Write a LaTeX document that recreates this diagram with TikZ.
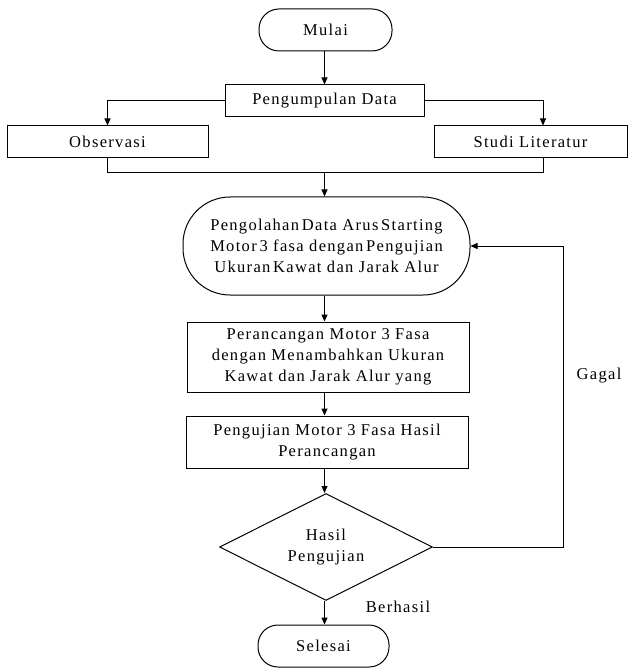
\documentclass[tikz,border=0pt]{standalone}
\usepackage{fontspec}
\setmainfont{Liberation Serif}[LetterSpace=8]
\usetikzlibrary{arrows.meta,shapes.geometric}
\begin{document}
\begin{tikzpicture}[x=1pt,y=-1pt, line width=1pt,
  font=\fontsize{16.5}{21}\selectfont,
  box/.style={draw, rectangle, inner sep=0pt, align=center},
  term/.style={draw, rectangle, inner sep=0pt, align=center},
  dec/.style={draw, diamond, aspect=2, inner sep=0pt, align=center},
  arr/.style={-{Triangle[length=7pt,width=6pt]}}]
\useasboundingbox (0,0) rectangle (630,668);

\node[term, rounded corners=20pt, minimum width=133pt, minimum height=42pt] (mulai) at (325.5,30) {Mulai};
\node[box, minimum width=199pt, minimum height=32pt] (peng) at (324.5,101) {Pengumpulan Data};
\node[box, minimum width=201pt, minimum height=32pt] (obs) at (107.5,142) {Observasi};
\node[box, minimum width=193pt, minimum height=32pt] (studi) at (530.5,142) {Studi Literatur};
\node[term, rounded corners=47pt, minimum width=287pt, minimum height=98pt] (olah) at (326.5,246)
  {Pengolahan\,Data Arus\,Starting\\Motor\,3 fasa dengan\,Pengujian\\Ukuran\,Kawat dan Jarak Alur};
\node[box, minimum width=282pt, minimum height=70pt] (ranc) at (328,357)
  {Perancangan Motor 3 Fasa\\dengan Menambahkan Ukuran\\Kawat dan Jarak Alur yang};
\node[box, minimum width=282pt, minimum height=52pt] (uji) at (327,442)
  {Pengujian Motor 3 Fasa Hasil\\Perancangan};
\node[dec, minimum width=213pt, minimum height=107pt] (dia) at (326,547) {Hasil\\Pengujian};
\node[term, rounded corners=20pt, minimum width=131pt, minimum height=42pt] (sel) at (323.5,646) {Selesai};

\node (gagal) at (599,376) {Gagal};
\node (berhasil) at (398,607) {Berhasil};

\coordinate (axis) at (324.5,0);
\coordinate (sb) at (543,0);
\coordinate (jn) at (0,173);
\coordinate (gx) at (563,0);

\draw[arr] (axis |- mulai.south) -- (axis |- peng.north);
\draw[arr] (peng.west) -| (obs.north);
\draw[arr] (peng.east) -| (sb |- studi.north);
\draw (obs.south) |- (jn -| sb) -- (sb |- studi.south);
\draw[arr] (axis |- jn) -- (axis |- olah.north);
\draw[arr] (axis |- olah.south) -- (axis |- ranc.north);
\draw[arr] (axis |- ranc.south) -- (axis |- uji.north);
\draw[arr] (axis |- uji.south) -- (axis |- dia.north);
\draw[arr] (axis |- dia.south) -- (axis |- sel.north);
\draw[arr] (dia.east) -- (dia.east -| gx) |- (olah.east);
\end{tikzpicture}
\end{document}
